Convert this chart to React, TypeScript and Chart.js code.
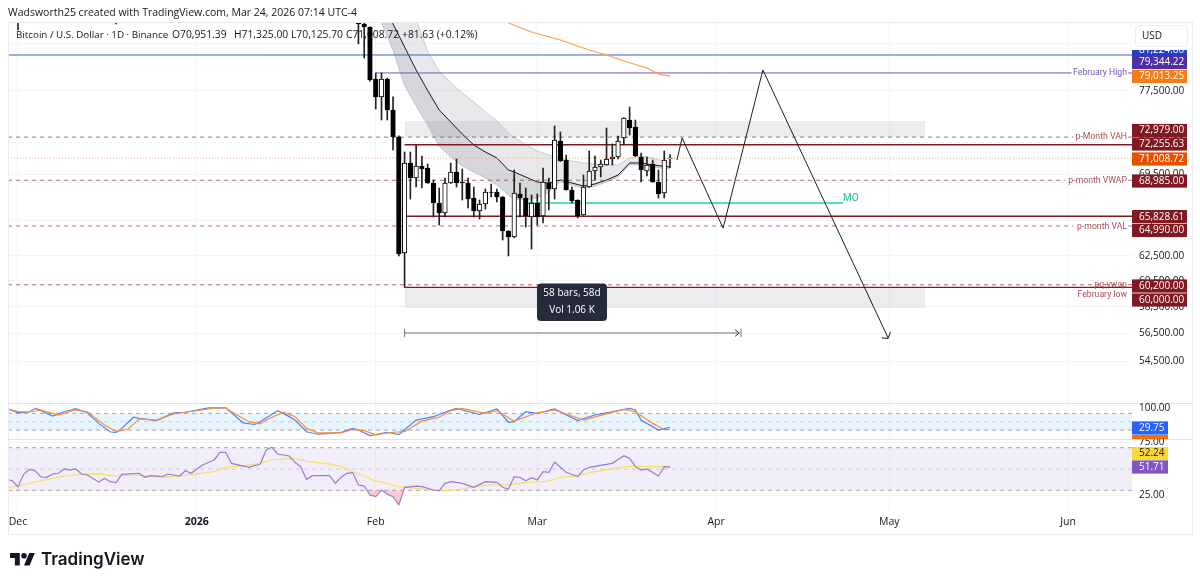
import React, { useEffect, useRef } from 'react';
import Chart from 'chart.js/auto';

// candles, x is days since Dec 1 2025
const candleDays = [0, 17, 59, 60, 61, 62, 63, 64, 65, 66, 67, 68, 69, 70, 71, 72, 73, 74, 75, 76, 77, 78, 79, 80, 81, 82, 83, 84, 85, 86, 87, 88, 89, 90, 91, 92, 93, 94, 95, 96, 97, 98, 99, 100, 101, 102, 103, 104, 105, 106, 107, 108, 109, 110, 111, 112, 113];
const opens = [91000, 86000, 87900, 84577, 84246, 78722, 76901, 78722, 75604, 72993, 62742, 70556, 69186, 70280, 70096, 68741, 66971, 66103, 68741, 69732, 68830, 68741, 67408, 66275, 66883, 67938, 67938, 67496, 64568, 64066, 67762, 67408, 65759, 66971, 65845, 68741, 68203, 72610, 70832, 68114, 67232, 65931, 68381, 69823, 70188, 70372, 70925, 71111, 72893, 74625, 73948, 71111, 69823, 70464, 68830, 67850, 70951.39];
const highs = [91500, 89000, 88000, 84800, 84250, 79342, 79342, 78800, 76901, 73100, 71576, 71576, 72233, 71204, 70464, 69008, 68292, 69186, 70556, 70925, 70005, 69186, 68381, 67232, 68203, 68652, 68203, 67550, 64600, 69914, 68741, 68292, 67672, 67762, 70096, 69186, 74045, 73468, 71297, 68381, 67250, 69460, 71669, 71204, 70832, 73849, 72327, 73087, 74850, 75900, 74625, 71483, 71111, 70832, 69914, 71669, 71325];
const lows = [83915, 84580, 82400, 80907, 78500, 75703, 74625, 74625, 71762, 62500, 60000, 67320, 68381, 68292, 68700, 65759, 65076, 65759, 68700, 68381, 67232, 66535, 65759, 65587, 66448, 67496, 67058, 63815, 62500, 64000, 65759, 64907, 63071, 65076, 65246, 66361, 67320, 70700, 68100, 66971, 65673, 65900, 68350, 69008, 69277, 70350, 70372, 70925, 72233, 73183, 71150, 68830, 69368, 68800, 67408, 67408, 70125.7];
const closes = [86300, 85500, 84577, 84246, 78619, 76901, 78722, 75604, 72993, 62660, 70556, 69186, 70280, 70005, 68741, 66971, 66103, 68741, 69732, 68741, 68741, 67320, 66275, 66883, 67938, 67900, 67496, 64568, 64066, 67850, 67408, 65845, 66971, 65759, 68830, 68203, 72704, 70740, 68114, 67145, 65845, 68381, 69823, 70188, 70464, 70925, 71111, 72610, 74820, 73852, 71204, 69914, 70372, 68830, 67762, 70832, 71008.72];

// slow moving average
const slowMaDays = [85, 89, 94, 99, 102, 105, 109, 111, 113];
const slowMa = [84687, 83697, 82828, 81755, 81226, 80592, 79860, 79239, 79013.25];

// channel around the fast average
const bandDays = [63, 65, 67, 69, 71, 73, 75, 77, 79, 81, 83, 85, 86, 88, 90, 92, 94, 96, 98, 100, 102, 104, 106, 108, 110, 113];
const bandUpper = [92000, 88990, 87830, 85100, 81543, 79548, 78319, 77299, 76398, 75408, 74530, 73372, 72993, 72233, 71669, 71297, 71018, 70740, 70556, 70464, 70372, 70372, 71018, 71204, 71018, 70556];
const bandMid = [88400, 84577, 82077, 79651, 77550, 75604, 74430, 73280, 72233, 71576, 71018, 69914, 69732, 69277, 68830, 68741, 69008, 68741, 68470, 68652, 69008, 69460, 70556, 70556, 70372, 70188];
const bandLower = [84687, 81755, 78058, 76002, 74141, 72136, 71111, 70280, 69732, 69186, 68561, 67672, 67320, 67232, 67408, 67938, 68830, 68561, 68292, 68470, 68830, 69277, 70372, 70372, 70188, 70005];

// drawings
const projectionDays = [114.2, 115.1, 122.2, 129.1, 150.8];
const projectionPrices = [70832, 72890, 64820, 79651, 56168];
const arrowDays = [149.7, 150.8, 151.2];
const arrowPrices = [56168, 56130, 56600];
const rangeDays = [67, 125];
const rangePrice = 56530;

// stochastic RSI
const stochKDays = [-2, 0, 2, 3, 4, 6, 8, 10, 12, 14, 16, 17, 18, 20, 21, 24, 27, 29, 31, 33, 36, 39, 41, 42, 45, 46, 48, 50, 52, 55, 56, 58, 59, 61, 64, 66, 69, 72, 75, 76, 80, 83, 85, 86, 88, 90, 93, 97, 100, 106, 107, 108, 111, 113];
const stochK = [98, 82, 85, 98, 90, 70, 86, 97, 82, 44, 13, 12, 26, 66, 62, 54, 82, 84, 92, 100, 100, 46, 40, 50, 90, 80, 56, 14, 5, 10, 12, 26, 20, 0, 12, 4, 56, 68, 92, 98, 76, 96, 48, 50, 86, 80, 96, 54, 74, 98, 92, 56, 20, 29.75];
const stochDDays = [-2, 0, 2, 4, 7, 10, 12, 15, 17, 19, 21, 24, 27, 29, 32, 34, 36, 37, 40, 42, 43, 46, 48, 50, 52, 56, 58, 60, 62, 65, 67, 70, 73, 75, 77, 81, 83, 86, 90, 93, 98, 102, 105, 107, 110, 112, 113];
const stochD = [98, 86, 85, 92, 74, 92, 86, 38, 15, 22, 60, 56, 78, 84, 92, 100, 100, 86, 50, 42, 56, 84, 68, 26, 10, 10, 22, 18, 3, 12, 14, 52, 66, 90, 98, 80, 90, 52, 82, 92, 56, 78, 94, 86, 44, 22, 22];

// RSI and its average
const rsiDays = [-2, -1, 0, 1, 2, 3, 4, 5, 6, 7, 8, 9, 10, 11, 12, 14, 15, 16, 17, 18, 21, 22, 23, 25, 26, 28, 29, 30, 32, 34, 35, 36, 37, 40, 42, 43, 44, 45, 47, 48, 49, 50, 51, 54, 55, 56, 57, 58, 59, 60, 61, 62, 63, 64, 65, 66, 67, 69, 70, 72, 73, 74, 75, 77, 79, 81, 83, 84, 85, 86, 87, 88, 89, 90, 91, 92, 93, 95, 97, 98, 99, 103, 105, 106, 107, 108, 109, 111, 112, 113];
const rsiValues = [40.3, 39, 33.4, 45.3, 49.7, 48.1, 42.5, 42.2, 45.3, 46, 50, 49, 50, 45.3, 44.4, 37.8, 41.2, 38.1, 37.2, 45, 46, 42.2, 43.7, 42.8, 45.3, 43.4, 48.4, 46, 53.8, 58.5, 65.7, 65.7, 55.3, 51.6, 54.7, 67.9, 70.4, 64.1, 62.2, 56.3, 52.2, 40.3, 43.7, 43.7, 36.6, 42.2, 45.9, 46.6, 35, 34, 25.6, 24, 30.3, 26.2, 24, 16.2, 32.8, 34, 33.4, 30.3, 29.7, 36.5, 38.1, 36.5, 32.8, 38.1, 37.5, 32.8, 31.2, 42.8, 42.2, 39, 41.9, 39.7, 47.5, 46.9, 56.3, 46.9, 42.8, 49, 51.6, 55.3, 62.5, 60, 52.2, 49, 50, 43.4, 52.2, 51.71];
const rsiMaDays = [-2, 0, 3, 6, 8, 11, 14, 17, 20, 22, 26, 29, 34, 36, 39, 42, 44, 47, 49, 50, 54, 56, 59, 62, 64, 66, 69, 73, 76, 79, 82, 85, 88, 92, 94, 97, 100, 103, 105, 108, 113];
const rsiMa = [32.5, 34, 38, 41.2, 43.4, 45, 45.3, 43.4, 44.4, 43.4, 42.5, 44, 47.5, 51.6, 53.1, 55.3, 58.5, 59.7, 59.1, 57.2, 54.7, 52.2, 45.3, 38.7, 36.5, 33.4, 31.9, 29.4, 30.3, 33.4, 35, 35, 37.2, 38.7, 42.2, 43.7, 47.5, 50, 52.2, 52.5, 52.24];

// axes
const priceTicks = [82500, 77500, 72500, 69500, 65500, 62500, 60500, 58500, 56500, 54500];
const monthDays = [0, 31, 62, 90, 121, 151, 182];
const monthLabels = ['Dec', '2026', 'Feb', 'Mar', 'Apr', 'May', 'Jun'];

// scale ranges that put the panes where they sit in the page
const xMin = -1.733;
const xMax = 193.07;
const UI_FONT = '"Open Sans", sans-serif';
const LABEL_FONT = 'Roboto, sans-serif';
const TEXT = '#131722';
const RED = '#801922';
const RED_SOFT = '#b5666e';
const GRID = '#f3f4f8';

const pts = (xs: number[], ys: number[]) => xs.map((x, i) => ({ x, y: ys[i] }));

const line = (label: string, xs: number[], ys: number[], color: string, width: number, order: number, extra: any = {}) => ({
  type: 'line' as const,
  label,
  data: pts(xs, ys),
  borderColor: color,
  borderWidth: width,
  pointRadius: 0,
  tension: 0,
  fill: false,
  order,
  ...extra,
});

const box = (label: string, from: number, to: number, top: number, bottom: number, color: string, yAxisID: string, order: number) =>
  line(label, [from, to], [top, top], 'transparent', 0, order, {
    yAxisID,
    fill: { target: { value: bottom } },
    backgroundColor: color,
  });

const candleSets = [
  {
    type: 'bar' as const,
    label: 'Bitcoin',
    data: candleDays.map((x, i) => ({ x, y: [opens[i], closes[i]] })),
    backgroundColor: candleDays.map((_, i) => (closes[i] >= opens[i] ? '#ffffff' : '#000000')),
    borderColor: '#000000',
    borderWidth: 1,
    borderSkipped: false,
    barThickness: 4.6,
    grouped: false,
    order: 3,
  },
  {
    type: 'bar' as const,
    label: 'Wicks',
    data: candleDays.map((x, i) => ({ x, y: [lows[i], highs[i]] })),
    backgroundColor: '#222222',
    barThickness: 1,
    grouped: false,
    order: 4,
  },
];

const levelSets = [
  line('Blue level', [xMin, xMax], [81224, 81224], '#3f63b8', 1, 6),
  line('February High', [62, 182.6, null as any, 192.4, xMax], [79344.22, 79344.22, null as any, 79344.22, 79344.22], '#7657b8', 1, 6),
  line('p-Month VAH', [xMin, 182.9, null as any, 192.4, xMax], [72979, 72979, null as any, 72979, 72979], RED_SOFT, 1, 6, { borderDash: [4, 4] }),
  line('Upper level', [67, xMax], [72255.63, 72255.63], RED, 1.4, 6),
  line('Last price', [xMin, xMax], [71008.72, 71008.72], '#f4a37c', 1, 6, { borderDash: [1, 2] }),
  line('p-month VWAP', [xMin, 181.5, null as any, 192.4, xMax], [68985, 68985, null as any, 68985, 68985], RED_SOFT, 1, 6, { borderDash: [4, 4] }),
  line('Lower level', [67.3, xMax], [65828.61, 65828.61], RED, 1.4, 6),
  line('p-month VAL', [xMin, 182.9, null as any, 192.4, xMax], [64990, 64990, null as any, 64990, 64990], RED_SOFT, 1, 6, { borderDash: [4, 4] }),
  line('pq-vwap', [xMin, xMax], [60200, 60200], RED_SOFT, 1, 6, { borderDash: [4, 4] }),
  line('February low', [67, xMax], [60000, 60000], RED, 1.2, 6),
  line('MO', [88, 143], [66971, 66971], '#1fd69a', 1.4, 5),
];

const bandSets = [
  line('Band upper', bandDays, bandUpper, '#c9cbd1', 1, 9, { fill: '+1', backgroundColor: 'rgba(120,123,134,0.17)' }),
  line('Band mid', bandDays, bandMid, '#131722', 1, 7),
  line('Band lower', bandDays, bandLower, '#c0c2c9', 1, 9, { fill: '-1', backgroundColor: 'rgba(120,123,134,0.3)' }),
];

const zoneDash = { borderDash: [4, 4] };

const paneSets = [
  box('Stoch zone', xMin, xMax, 80, 20, 'rgba(33,150,243,0.1)', 'yStoch', 30),
  ...[80, 50, 20].map((v) => line('Stoch ' + v, [xMin, xMax], [v, v], v === 50 ? '#c9ccd3' : '#a3a6af', 1, 12, { yAxisID: 'yStoch', ...zoneDash })),
  line('Stoch %K', stochKDays, stochK, '#4d84f5', 1.2, 1, { yAxisID: 'yStoch' }),
  line('Stoch %D', stochDDays, stochD, '#ff8b32', 1.2, 0, { yAxisID: 'yStoch' }),
  box('RSI zone', xMin, xMax, 70, 30, 'rgba(126,87,194,0.1)', 'yRsi', 30),
  ...[70, 50, 30].map((v) => line('RSI ' + v, [xMin, xMax], [v, v], v === 50 ? '#c9ccd3' : '#a3a6af', 1, 12, { yAxisID: 'yRsi', ...zoneDash })),
  ...[75, 25].map((v) => line('RSI grid ' + v, [xMin, xMax], [v, v], GRID, 1, 40, { yAxisID: 'yRsi' })),
  line('RSI', rsiDays, rsiValues, '#9a7bcf', 1.2, 1, {
    yAxisID: 'yRsi',
    fill: { target: { value: 30 }, above: 'transparent', below: 'rgba(247,82,95,0.3)' },
  }),
  line('RSI MA', rsiMaDays, rsiMa, '#fbdc6c', 1.3, 2, { yAxisID: 'yRsi' }),
];

const drawingSets = [
  line('Slow MA', slowMaDays, slowMa, '#ff9d4d', 1.2, 2),
  line('Projection', projectionDays, projectionPrices, '#1b1d24', 1, 0),
  line('Arrow', arrowDays, arrowPrices, '#1b1d24', 1, 0),
  line('Range', rangeDays, [rangePrice, rangePrice], '#6f7178', 1.2, 0),
  line('Range start', [67, 67], [56230, 56840], '#6f7178', 1, 0),
  line('Range end', [124.3, 125, 124.3], [56290, 56530, 56770], '#222222', 1, 0),
  line('Range cap', [125.3, 125.3], [56230, 56840], '#6f7178', 1, 0),
  box('Top box', 67, 157.2, 74530, 72979, 'rgba(120,123,134,0.14)', 'y', 20),
  box('Bottom box', 67, 157.2, 60000, 58397, 'rgba(120,123,134,0.14)', 'y', 20),
];

const priceTags = [
  { text: '81,224.00', y: 50, bg: '#2340c9', fg: '#ffffff', wide: true, top: 50, bottom: 56 },
  { text: '79,344.22', y: 62.5, bg: '#4f2fa8', fg: '#ffffff', wide: true },
  { text: '79,013.25', y: 76.5, bg: '#f57c17', fg: '#ffffff', wide: true },
  { text: '72,979.00', y: 130.5, bg: RED, fg: '#ffffff', wide: true },
  { text: '72,255.63', y: 144, bg: RED, fg: '#ffffff', wide: true },
  { text: '71,008.72', y: 159, bg: '#e65100', fg: '#ffffff', wide: true },
  { text: '68,985.00', y: 181, bg: RED, fg: '#ffffff', wide: true },
  { text: '65,828.61', y: 216.7, bg: RED, fg: '#ffffff', wide: true },
  { text: '64,990.00', y: 230.5, bg: RED, fg: '#ffffff', wide: true },
  { text: '60,200.00', y: 286, bg: RED, fg: '#ffffff', wide: true },
  { text: '60,000.00', y: 300, bg: RED, fg: '#ffffff', wide: true },
  { text: '29.75', y: 428, bg: '#2962ff', fg: '#ffffff', wide: false },
  { text: '52.24', y: 453.5, bg: '#fdd835', fg: '#131722', wide: false },
  { text: '51.71', y: 467, bg: '#7e57c2', fg: '#ffffff', wide: false },
];

const sideLabels = [
  { text: 'February High', x: 1127, y: 73, color: '#7657b8' },
  { text: 'p-Month VAH', x: 1127, y: 137, color: '#a54e58' },
  { text: 'p-month VWAP', x: 1127, y: 181, color: '#a54e58' },
  { text: 'p-month VAL', x: 1127, y: 227, color: '#a54e58' },
  { text: 'pq-vwap', x: 1127, y: 285, color: '#a54e58' },
  { text: 'February low', x: 1127, y: 295, color: '#a54e58' },
];

const legendParts = [
  { text: 'Bitcoin / U.S. Dollar · 1D · Binance', x: 16, size: 9.8 },
  { text: 'O70,951.39', x: 172, size: 10.3 },
  { text: 'H71,325.00', x: 234, size: 10.3 },
  { text: 'L70,125.70', x: 291, size: 10.3 },
  { text: 'C71,008.72', x: 346, size: 10.3 },
  { text: '+81.63 (+0.12%)', x: 402, size: 10.3 },
];

const logoGlyph = 'M14 22H7V11H0V4h14v18zM28 22h-8l7.5-18h8L28 22z';

const rounded = (ctx: CanvasRenderingContext2D, x: number, y: number, w: number, h: number, r: number) => {
  ctx.beginPath();
  ctx.roundRect(x, y, w, h, r);
};

const overlay = {
  id: 'overlay',
  afterDraw(chart: any) {
    const ctx: CanvasRenderingContext2D = chart.ctx;
    ctx.save();
    ctx.textBaseline = 'middle';

    // frame and pane dividers
    ctx.strokeStyle = '#e9ebf1';
    ctx.lineWidth = 1;
    ctx.strokeRect(8.5, 22.5, 1184, 512);
    ctx.strokeStyle = '#dfe1e8';
    [403.5, 439.5].forEach((y) => {
      ctx.beginPath();
      ctx.moveTo(8, y);
      ctx.lineTo(1192, y);
      ctx.stroke();
    });

    // header
    ctx.fillStyle = TEXT;
    ctx.textAlign = 'left';
    ctx.font = '10.5px ' + UI_FONT;
    ctx.fillText('Wadsworth25 created with TradingView.com, Mar 24, 2026 07:14 UTC-4', 8, 13);
    legendParts.forEach((p) => {
      ctx.font = p.size + 'px ' + UI_FONT;
      ctx.fillText(p.text, p.x, 35.5);
    });

    // labels beside the levels
    ctx.textAlign = 'right';
    ctx.font = '8.7px ' + LABEL_FONT;
    sideLabels.forEach((l) => {
      ctx.fillStyle = l.color;
      ctx.fillText(l.text, l.x, l.y);
    });
    ctx.textAlign = 'left';
    ctx.fillStyle = '#1fc48e';
    ctx.font = '10px ' + LABEL_FONT;
    ctx.fillText('MO', 843, 198);

    // oscillator axis labels
    ctx.fillStyle = TEXT;
    ctx.font = '10px ' + UI_FONT;
    ctx.fillText('100.00', 1139, chart.scales.yStoch.getPixelForValue(100));
    ctx.fillText('75.00', 1139, chart.scales.yRsi.getPixelForValue(75));
    ctx.fillText('25.00', 1139, chart.scales.yRsi.getPixelForValue(25));

    // currency button
    ctx.fillStyle = '#ffffff';
    ctx.strokeStyle = '#eceef3';
    rounded(ctx, 1135.5, 25.5, 52, 21, 3);
    ctx.fill();
    ctx.stroke();
    ctx.fillStyle = TEXT;
    ctx.fillText('USD', 1142, 36);

    // price tags
    ctx.fillStyle = '#ff6d00';
    ctx.fillRect(1132, 435, 36, 4);
    priceTags.forEach((t: any) => {
      const w = t.wide ? 55 : 36;
      const top = t.top ?? t.y - 6.8;
      const h = t.bottom ? t.bottom - t.top : 13.6;
      ctx.save();
      ctx.beginPath();
      ctx.rect(1132, top, w, h);
      ctx.clip();
      ctx.fillStyle = t.bg;
      ctx.fillRect(1132, top, w, h);
      ctx.fillStyle = t.fg;
      ctx.fillText(t.text, 1139, t.y);
      ctx.restore();
    });

    // measure tooltip
    ctx.fillStyle = '#252b3a';
    rounded(ctx, 537, 283.5, 70, 37.5, 4);
    ctx.fill();
    ctx.fillStyle = '#ffffff';
    ctx.textAlign = 'center';
    ctx.fillText('58 bars, 58d', 572, 293.5);
    ctx.fillText('Vol 1.06 K', 572, 310.5);

    // logo
    ctx.save();
    ctx.translate(10, 550.2);
    ctx.scale(0.7, 0.7);
    ctx.fillStyle = '#131722';
    ctx.fill(new Path2D(logoGlyph));
    ctx.beginPath();
    ctx.arc(20, 8, 4, 0, Math.PI * 2);
    ctx.fill();
    ctx.restore();
    ctx.fillStyle = '#131722';
    ctx.textAlign = 'left';
    ctx.font = '600 17px Inter, sans-serif';
    ctx.fillText('TradingView', 41, 560);
    ctx.restore();
  },
};

const App: React.FC = () => {
  const canvasRef = useRef<HTMLCanvasElement | null>(null);

  useEffect(() => {
    if (!canvasRef.current) return;

    const chart = new Chart(canvasRef.current, {
      type: 'bar',
      data: {
        datasets: [...paneSets, ...candleSets, ...levelSets, ...bandSets, ...drawingSets] as any,
      },
      options: {
        animation: false,
        responsive: false,
        devicePixelRatio: 1,
        events: [],
        layout: { padding: { left: 8, right: 8, top: 23, bottom: 50 } },
        plugins: { legend: { display: false }, tooltip: { enabled: false } },
        spanGaps: false,
        scales: {
          x: {
            type: 'linear',
            min: xMin,
            max: xMax,
            offset: false,
            grid: { color: GRID, drawTicks: false, offset: false },
            border: { display: false },
            afterBuildTicks: (scale: any) => {
              scale.ticks = monthDays.map((value) => ({ value }));
            },
            afterFit: (scale: any) => {
              scale.height = 23;
            },
            ticks: {
              autoSkip: false,
              maxRotation: 0,
              padding: 4,
              color: TEXT,
              font: (c: any) => ({
                family: UI_FONT,
                size: 10.5,
                weight: c.tick && c.tick.value === 31 ? 'bold' : 'normal',
              }),
              callback: (value: any) => monthLabels[monthDays.indexOf(value)] ?? '',
            },
          },
          y: {
            type: 'logarithmic',
            position: 'right',
            min: 44764,
            max: 84684,
            grid: { color: GRID, drawTicks: false },
            border: { display: false },
            afterBuildTicks: (scale: any) => {
              scale.ticks = priceTicks.map((value) => ({ value }));
            },
            afterFit: (scale: any) => {
              scale.width = 60;
            },
            ticks: {
              autoSkip: false,
              padding: 7,
              color: TEXT,
              font: { family: UI_FONT, size: 10 },
              callback: (value: any) =>
                Number(value).toLocaleString('en-US', { minimumFractionDigits: 2, maximumFractionDigits: 2 }),
            },
          },
          yStoch: { type: 'linear', display: false, min: -274.8, max: 1484.2 },
          yRsi: { type: 'linear', display: false, min: 9.62, max: 468.8 },
        },
      },
      plugins: [overlay],
    } as any);

    return () => {
      chart.destroy();
    };
  }, []);

  return (
    <div style={{ position: 'absolute', left: 0, top: 0, width: 1200, height: 585, background: '#ffffff' }}>
      <canvas ref={canvasRef} width={1200} height={585} style={{ display: 'block' }} />
    </div>
  );
};

export default App;
